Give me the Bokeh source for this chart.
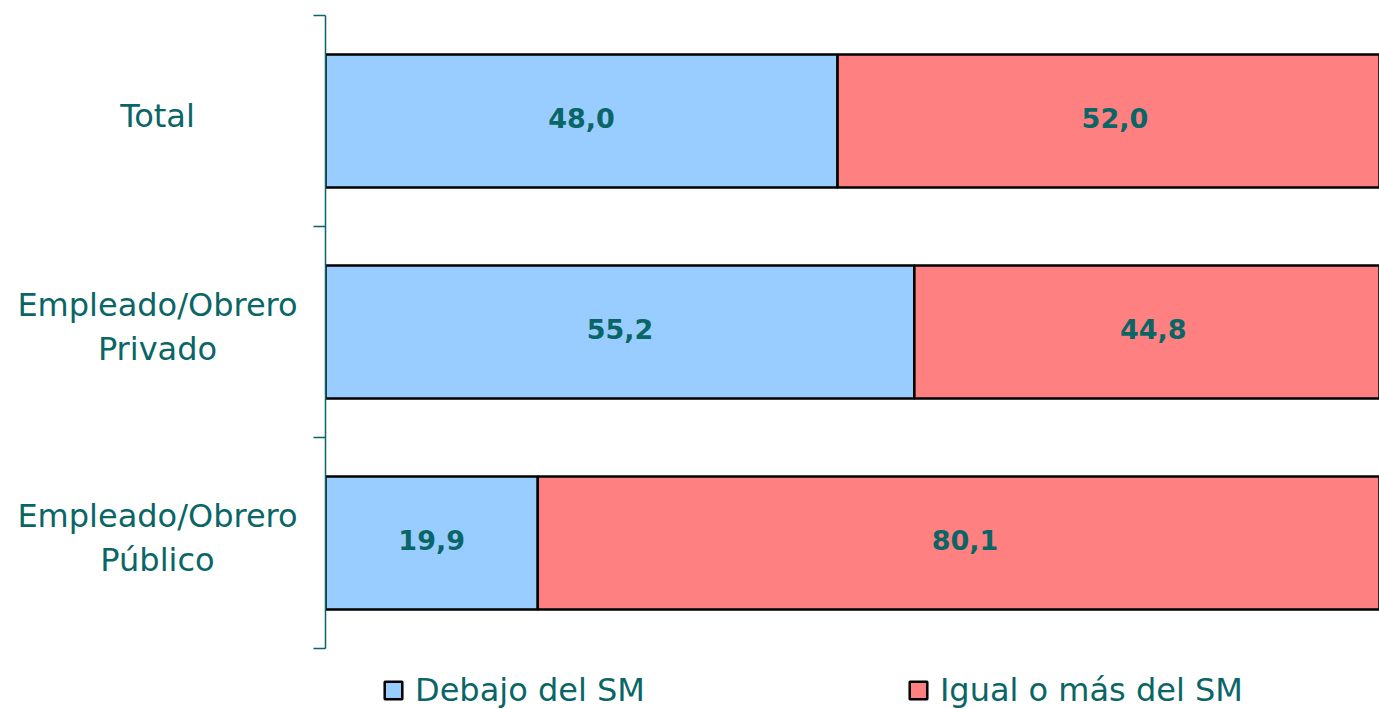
from bokeh.plotting import figure
from bokeh.layouts import row
from bokeh.models import (ColumnDataSource, FixedTicker, Legend, LegendItem, Range1d)
from bokeh.core.properties import value
from bokeh.embed import file_html
from bokeh.resources import INLINE

categories = ["Total", "Empleado/Obrero\nPrivado", "Empleado/Obrero\nPúblico"]
debajo = [48.0, 55.2, 19.9]
igual_mas = [52.0, 44.8, 80.1]
series_names = ["Debajo del SM", "Igual o más del SM"]
colors = ["#99CCFF", "#FF8080"]
text_color = "#0A6666"

n = len(categories)
ypos = [n - i - 0.5 for i in range(n)]
# extra room below the categories is kept for the legend
yr = Range1d(-0.289, n)

TOP = 15

# left figure holding the category labels
lf = figure(width=300, height=709, output_backend="svg", toolbar_location=None,
            x_range=Range1d(0, 300), y_range=yr,
            min_border_left=0, min_border_right=0, min_border_top=TOP, min_border_bottom=0)
lf.axis.visible = False
lf.grid.visible = False
lf.outline_line_color = None
lf.text(x=[157] * n, y=ypos, text=categories, text_align="center", text_baseline="middle",
        text_font=value("DejaVu Sans"), text_font_size="32px", text_color=text_color,
        text_line_height=1.18, y_offset=-5)

src = ColumnDataSource(dict(y=ypos, debajo=debajo, igual=igual_mas))

p = figure(width=1079, height=709, output_backend="svg", toolbar_location=None,
           x_range=Range1d(0, 98.8), y_range=yr,
           min_border_left=25, min_border_right=0, min_border_top=TOP, min_border_bottom=0)

rs = p.hbar_stack(["debajo", "igual"], y="y", height=0.63, color=colors, source=src,
                  line_color="black", line_width=2.5)

# value labels
lx, ly, lt = [], [], []
for i in range(n):
    lx.append(debajo[i] / 2)
    ly.append(ypos[i])
    lt.append(f"{debajo[i]:.1f}".replace(".", ","))
    lx.append(debajo[i] + igual_mas[i] / 2)
    ly.append(ypos[i])
    lt.append(f"{igual_mas[i]:.1f}".replace(".", ","))
p.text(x=lx, y=ly, text=lt, text_align="center", text_baseline="middle",
       text_font=value("DejaVu Sans"), text_font_style="bold", text_font_size="27px",
       text_color=text_color, y_offset=-3)

p.xaxis.visible = False
p.xgrid.visible = False
p.ygrid.visible = False
p.outline_line_color = None

ax = p.yaxis[0]
ax.bounds = (0, n)
ax.ticker = FixedTicker(ticks=[], minor_ticks=list(range(n + 1)))
ax.major_label_text_font_size = "0px"
ax.major_label_standoff = 0
ax.major_tick_line_color = None
ax.major_tick_out = 0
ax.minor_tick_out = 12
ax.minor_tick_in = 0
ax.minor_tick_line_color = text_color
ax.minor_tick_line_width = 1.5
ax.axis_line_color = text_color
ax.axis_line_width = 1.5

legend = Legend(items=[LegendItem(label=series_names[k], renderers=[rs[k]]) for k in range(2)],
                orientation="horizontal", location=(57, 0), spacing=262,
                glyph_width=22, glyph_height=22, label_standoff=11,
                label_text_font="DejaVu Sans", label_text_font_size="32px",
                label_text_color=text_color, padding=0, margin=0,
                border_line_color=None, background_fill_alpha=0)
p.add_layout(legend, "center")

layout = row(lf, p, spacing=0)
open("out.html", "w").write(file_html(layout, INLINE))
